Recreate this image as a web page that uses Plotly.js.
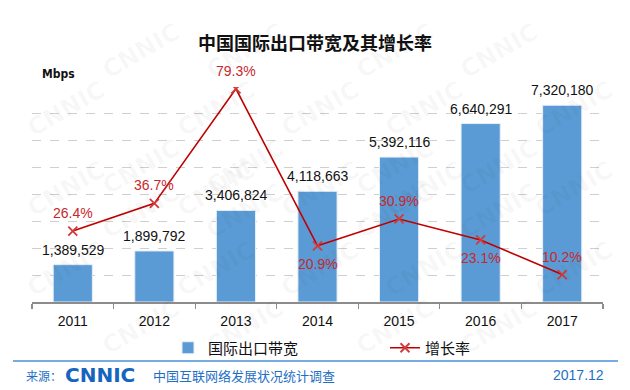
<!DOCTYPE html>
<html><head><meta charset="utf-8">
<script src="https://cdn.plot.ly/plotly-3.0.1.min.js"></script>
<style>html,body{margin:0;padding:0;background:#fff;}#c{width:630px;height:390px;}</style>
</head><body><div id="c"></div>
<script>
const years = ['2011','2012','2013','2014','2015','2016','2017'];
const bandwidth = [1389529, 1899792, 3406824, 4118663, 5392116, 6640291, 7320180];
const growth = [26.4, 36.7, 79.3, 20.9, 30.9, 23.1, 10.2];
const growthLabelSide = ['above','above','above','below','above','below','above'];
const titleText = '中国国际出口带宽及其增长率';
const barName = '国际出口带宽';
const lineName = '增长率';

const W = 630, H = 390, L = 32, R = 27, T = 87, B = 88;
const pw = W - L - R, ph = H - T - B;
const xp = px => (px - L) / pw;
const yp = py => (H - B - py) / ph;

const fmt = v => v.toLocaleString('en-US');
const ann = [];
// watermarks
let row = 0;
for (let y = 15; y < 400; y += 58, row++) {
  for (let x = (row % 2 ? 20 : 95); x < 680; x += 150) {
    ann.push({xref:'paper', yref:'paper', x: xp(x), y: yp(y), text:'CNNIC', showarrow:false,
      textangle:-30, font:{family:'DejaVu Sans', size:24, color:'rgba(0,0,0,0.035)', weight:'bold'}});
  }
}
// bar value labels and growth labels (x given as category index)
years.forEach((yr, i) => {
  ann.push({x: i, y: bandwidth[i], xref:'x', yref:'y', text: fmt(bandwidth[i]), showarrow:false,
    yanchor:'middle', yshift:15, font:{family:'Liberation Sans, Arial', size:14, color:'#111'}});
  ann.push({x: i, y: growth[i], xref:'x', yref:'y2', text: growth[i].toFixed(1) + '%', showarrow:false,
    yanchor:'middle', yshift: growthLabelSide[i] === 'above' ? 18 : -18,
    font:{family:'Liberation Sans, Arial', size:14, color:'#C8282D'}});
});
// unit
ann.push({xref:'paper', yref:'paper', x: xp(40), y: yp(74), xanchor:'left', yanchor:'middle', text:'Mbps',
  showarrow:false, font:{family:'DejaVu Sans Condensed, DejaVu Sans', size:12, color:'#111', weight:'bold'}});
// footer
const blue = '#1F6FC5';
ann.push({xref:'paper', yref:'paper', x: xp(24), y: yp(375), xanchor:'left', yanchor:'middle', text:'来源：',
  showarrow:false, font:{family:'Noto Sans CJK SC', size:12, color:blue}});
ann.push({xref:'paper', yref:'paper', x: xp(63), y: yp(375), xanchor:'left', yanchor:'middle', text:'CNNIC',
  showarrow:false, font:{family:'DejaVu Sans', size:20, color:'#1565C0', weight:'bold'}});
ann.push({xref:'paper', yref:'paper', x: xp(151), y: yp(375), xanchor:'left', yanchor:'middle', text:'中国互联网络发展状况统计调查',
  showarrow:false, font:{family:'Noto Sans CJK SC', size:13, color:blue}});
ann.push({xref:'paper', yref:'paper', x: xp(606), y: yp(375), xanchor:'right', yanchor:'middle', text:'2017.12',
  showarrow:false, font:{family:'Liberation Sans, Arial', size:14, color:blue}});

const data = [
  {type:'bar', x: years, y: bandwidth, name: barName, yaxis:'y',
   marker:{color:'#5B9BD5', line:{color:'#e6eef7', width:1}}, hoverinfo:'skip'},
  {type:'scatter', mode:'lines+markers', x: years, y: growth, name: lineName, yaxis:'y2',
   line:{color:'#C00000', width:1.6},
   marker:{symbol:'x-thin', size:9, color:'#D03A3A', line:{color:'#D03A3A', width:1.8}}, hoverinfo:'skip'}
];

const layout = {
  width: W, height: H, margin:{l:L, r:R, t:T, b:B},
  paper_bgcolor:'#fff', plot_bgcolor:'rgba(0,0,0,0)',
  title:{text: titleText, x:0.5, xanchor:'center', y: 1 - 44/H, yanchor:'middle',
    font:{family:'Noto Sans CJK SC', size:18, color:'#111', weight:'bold'}},
  bargap:0.52,
  xaxis:{type:'category', range:[-0.5, years.length - 0.5], showline:true, linecolor:'#8c8c8c', linewidth:1.5, ticks:'outside',
    tickson:'boundaries', ticklen:5, tickcolor:'#8c8c8c', tickwidth:1.2, showgrid:false, ticklabelstandoff:6,
    tickfont:{family:'Liberation Sans, Arial', size:14, color:'#111'}, fixedrange:true},
  yaxis:{range:[0, 8000000], dtick:1000000, showticklabels:false, showgrid:true, gridcolor:'#cfcfcf',
    griddash:'dash', gridwidth:1, zeroline:false, showline:false, ticks:''},
  yaxis2:{range:[0, 80], overlaying:'y', side:'right', visible:false, showgrid:false, zeroline:false},
  showlegend:true,
  legend:{orientation:'h', x: xp(168), xanchor:'left', y: yp(348), yanchor:'middle',
    font:{family:'Noto Sans CJK SC', size:15, color:'#111'}, entrywidth:172, bgcolor:'rgba(0,0,0,0)'},
  shapes:[{type:'line', xref:'paper', yref:'paper', x0: xp(13), x1: xp(618), y0: yp(361), y1: yp(361),
    line:{color:'#4A90D9', width:1.5}}],
  annotations: ann
};
Plotly.newPlot('c', data, layout, {staticPlot:true, displayModeBar:false});
</script></body></html>
